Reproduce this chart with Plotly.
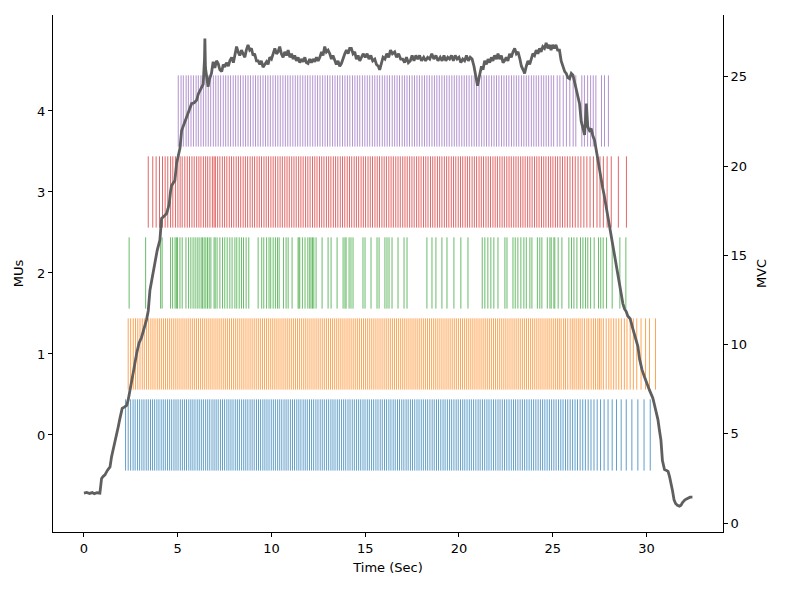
import plotly.graph_objects as go

# ---------------- data ----------------
mu_labels = [0, 1, 2, 3, 4]
mu_colors = ["#1f77b4", "#ff7f0e", "#2ca02c", "#d62728", "#9467bd"]

mu0_spikes = [2.22, 2.36, 2.49, 2.62, 2.73, 2.86, 2.97, 3.09, 3.20, 3.32, 3.43, 3.55, 3.66, 3.77, 3.89, 4.00,
              4.12, 4.23, 4.34, 4.46, 4.57, 4.68, 4.80, 4.91, 5.02, 5.14, 5.25, 5.36, 5.47, 5.59, 5.70, 5.81,
              5.92, 6.04, 6.15, 6.26, 6.37, 6.49, 6.60, 6.71, 6.83, 6.94, 7.05, 7.16, 7.28, 7.39, 7.50, 7.62,
              7.73, 7.84, 7.95, 8.07, 8.18, 8.29, 8.41, 8.52, 8.63, 8.74, 8.86, 8.97, 9.08, 9.20, 9.31, 9.42,
              9.54, 9.65, 9.76, 9.87, 9.99, 10.10, 10.21, 10.33, 10.44, 10.55, 10.67, 10.78, 10.89, 11.01,
              11.12, 11.23, 11.35, 11.46, 11.57, 11.69, 11.80, 11.91, 12.03, 12.14, 12.25, 12.37, 12.48,
              12.60, 12.71, 12.82, 12.94, 13.05, 13.17, 13.28, 13.39, 13.51, 13.62, 13.74, 13.85, 13.96,
              14.08, 14.19, 14.31, 14.42, 14.54, 14.65, 14.76, 14.88, 14.99, 15.11, 15.22, 15.34, 15.45,
              15.57, 15.68, 15.80, 15.91, 16.03, 16.14, 16.26, 16.37, 16.49, 16.60, 16.72, 16.83, 16.95,
              17.06, 17.18, 17.29, 17.41, 17.52, 17.64, 17.76, 17.87, 17.99, 18.10, 18.22, 18.33, 18.45,
              18.57, 18.68, 18.80, 18.91, 19.03, 19.15, 19.26, 19.38, 19.50, 19.61, 19.73, 19.85, 19.96,
              20.08, 20.20, 20.31, 20.43, 20.55, 20.66, 20.78, 20.90, 21.02, 21.13, 21.25, 21.37, 21.49,
              21.60, 21.72, 21.84, 21.96, 22.08, 22.19, 22.31, 22.43, 22.55, 22.67, 22.79, 22.91, 23.02,
              23.14, 23.26, 23.38, 23.50, 23.62, 23.74, 23.86, 23.98, 24.10, 24.22, 24.34, 24.46, 24.58,
              24.70, 24.82, 24.94, 25.06, 25.18, 25.31, 25.43, 25.55, 25.68, 25.80, 25.93, 26.06, 26.19,
              26.32, 26.46, 26.60, 26.74, 26.89, 27.04, 27.20, 27.37, 27.55, 27.74, 27.95, 28.17, 28.40,
              28.65, 28.92, 29.22, 29.54, 29.87, 30.20]

mu1_spikes = [2.36, 2.49, 2.63, 2.75, 2.87, 2.99, 3.11, 3.22, 3.34, 3.45, 3.57, 3.68, 3.79, 3.91, 4.02, 4.13,
              4.24, 4.35, 4.46, 4.57, 4.68, 4.79, 4.90, 5.01, 5.12, 5.23, 5.34, 5.45, 5.56, 5.67, 5.78, 5.89,
              6.00, 6.11, 6.22, 6.33, 6.44, 6.55, 6.66, 6.77, 6.88, 6.99, 7.10, 7.21, 7.32, 7.43, 7.54, 7.65,
              7.76, 7.87, 7.98, 8.09, 8.20, 8.31, 8.42, 8.53, 8.64, 8.75, 8.86, 8.97, 9.08, 9.19, 9.30, 9.41,
              9.52, 9.63, 9.74, 9.85, 9.96, 10.07, 10.18, 10.29, 10.40, 10.51, 10.62, 10.73, 10.84, 10.95,
              11.06, 11.17, 11.28, 11.39, 11.50, 11.61, 11.72, 11.83, 11.94, 12.05, 12.16, 12.27, 12.38,
              12.49, 12.60, 12.71, 12.82, 12.93, 13.04, 13.15, 13.26, 13.37, 13.48, 13.59, 13.70, 13.81,
              13.92, 14.03, 14.14, 14.25, 14.36, 14.47, 14.58, 14.69, 14.80, 14.91, 15.02, 15.13, 15.24,
              15.35, 15.46, 15.57, 15.68, 15.79, 15.90, 16.01, 16.12, 16.23, 16.34, 16.45, 16.56, 16.67,
              16.78, 16.89, 17.00, 17.11, 17.22, 17.33, 17.44, 17.55, 17.66, 17.77, 17.88, 17.99, 18.10,
              18.21, 18.32, 18.43, 18.54, 18.65, 18.76, 18.87, 18.98, 19.09, 19.20, 19.31, 19.42, 19.53,
              19.64, 19.75, 19.86, 19.97, 20.08, 20.19, 20.30, 20.41, 20.52, 20.63, 20.74, 20.85, 20.96,
              21.07, 21.18, 21.29, 21.40, 21.51, 21.62, 21.73, 21.84, 21.95, 22.06, 22.17, 22.28, 22.39,
              22.50, 22.61, 22.72, 22.83, 22.94, 23.05, 23.16, 23.27, 23.38, 23.49, 23.60, 23.71, 23.82,
              23.93, 24.04, 24.15, 24.26, 24.37, 24.48, 24.59, 24.70, 24.81, 24.92, 25.03, 25.14, 25.25,
              25.35, 25.45, 25.58, 25.68, 25.80, 25.93, 26.04, 26.14, 26.25, 26.36, 26.46, 26.57, 26.69,
              26.82, 26.92, 27.05, 27.17, 27.28, 27.40, 27.49, 27.58, 27.70, 27.85, 27.99, 28.11, 28.25,
              28.38, 28.52, 28.66, 28.82, 28.96, 29.13, 29.30, 29.48, 29.71, 29.95, 30.16, 30.48]

mu2_spikes = [2.41, 3.29, 4.09, 4.17, 4.62, 4.73, 4.86, 4.93, 4.99, 5.12, 5.24, 5.44, 5.58, 5.70, 5.82, 5.93,
              6.04, 6.14, 6.25, 6.32, 6.41, 6.50, 6.59, 6.68, 6.77, 6.94, 7.00, 7.10, 7.25, 7.39, 7.51, 7.64,
              7.78, 7.90, 8.05, 8.15, 8.28, 8.40, 8.51, 8.65, 8.79, 9.29, 9.48, 9.59, 9.74, 9.87, 9.96, 10.09,
              10.21, 10.32, 10.41, 10.64, 10.78, 10.89, 11.10, 11.42, 11.47, 11.51, 11.65, 11.79, 11.94,
              12.04, 12.11, 12.19, 12.26, 12.38, 12.70, 13.02, 13.18, 13.50, 13.82, 13.92, 13.98, 14.14,
              14.24, 14.35, 14.88, 14.99, 15.31, 15.63, 15.74, 16.05, 16.16, 16.27, 16.43, 16.75, 17.07,
              17.23, 18.29, 18.56, 18.77, 19.09, 19.36, 19.73, 20.10, 20.48, 21.24, 21.38, 21.54, 21.70,
              21.86, 22.08, 22.45, 22.56, 22.88, 23.00, 23.14, 23.30, 23.46, 23.59, 23.78, 23.89, 24.18,
              24.31, 24.42, 24.71, 24.85, 24.92, 25.06, 25.11, 25.29, 25.49, 25.86, 26.00, 26.13, 26.29,
              26.48, 26.61, 26.75, 26.87, 27.02, 27.21, 27.44, 27.56, 27.69, 27.87, 28.17, 28.58, 28.90]

mu3_spikes = [3.43, 3.67, 3.85, 4.03, 4.19, 4.33, 4.47, 4.62, 4.74, 4.88, 5.01, 5.13, 5.24, 5.38, 5.51, 5.63,
              5.76, 5.88, 6.01, 6.13, 6.24, 6.37, 6.49, 6.60, 6.72, 6.85, 6.94, 7.01, 7.13, 7.25, 7.38, 7.50,
              7.62, 7.75, 7.87, 7.99, 8.12, 8.24, 8.36, 8.49, 8.61, 8.73, 8.86, 8.98, 9.10, 9.23, 9.35, 9.47,
              9.60, 9.72, 9.84, 9.97, 10.09, 10.21, 10.34, 10.46, 10.58, 10.71, 10.83, 10.95, 11.08, 11.20,
              11.32, 11.45, 11.57, 11.69, 11.82, 11.94, 12.06, 12.19, 12.31, 12.43, 12.56, 12.68, 12.80,
              12.93, 13.05, 13.17, 13.30, 13.42, 13.54, 13.67, 13.79, 13.91, 14.04, 14.16, 14.28, 14.41,
              14.53, 14.65, 14.78, 14.90, 15.02, 15.15, 15.27, 15.39, 15.52, 15.64, 15.76, 15.89, 16.01,
              16.13, 16.26, 16.38, 16.50, 16.63, 16.75, 16.87, 17.00, 17.12, 17.24, 17.37, 17.49, 17.61,
              17.74, 17.86, 17.98, 18.11, 18.23, 18.35, 18.48, 18.60, 18.72, 18.85, 18.97, 19.09, 19.22,
              19.34, 19.46, 19.59, 19.71, 19.83, 19.96, 20.08, 20.20, 20.33, 20.45, 20.57, 20.70, 20.82,
              20.94, 21.07, 21.19, 21.31, 21.44, 21.56, 21.68, 21.81, 21.93, 22.05, 22.18, 22.30, 22.42,
              22.55, 22.67, 22.79, 22.92, 23.04, 23.16, 23.29, 23.41, 23.53, 23.66, 23.78, 23.90, 24.03,
              24.15, 24.27, 24.40, 24.52, 24.64, 24.77, 24.89, 25.01, 25.14, 25.26, 25.39, 25.52, 25.65,
              25.78, 25.92, 26.06, 26.20, 26.35, 26.50, 26.66, 26.82, 26.99, 27.17, 27.36, 27.52, 27.70,
              27.90, 28.12, 28.50, 28.93]

mu4_spikes = [5.03, 5.18, 5.30, 5.45, 5.57, 5.71, 5.84, 5.98, 6.10, 6.24, 6.37, 6.50, 6.63, 6.76, 6.90, 7.03,
              7.16, 7.29, 7.43, 7.56, 7.69, 7.82, 7.96, 8.09, 8.22, 8.35, 8.49, 8.62, 8.75, 8.88, 9.02, 9.15,
              9.28, 9.41, 9.55, 9.68, 9.81, 9.94, 10.08, 10.21, 10.34, 10.47, 10.61, 10.74, 10.87, 11.00,
              11.14, 11.27, 11.40, 11.53, 11.67, 11.80, 11.93, 12.06, 12.20, 12.33, 12.46, 12.59, 12.73,
              12.86, 12.99, 13.12, 13.26, 13.39, 13.52, 13.65, 13.79, 13.92, 14.05, 14.18, 14.32, 14.45,
              14.58, 14.71, 14.85, 14.98, 15.11, 15.24, 15.38, 15.51, 15.64, 15.77, 15.91, 16.04, 16.17,
              16.30, 16.44, 16.57, 16.70, 16.83, 16.97, 17.10, 17.23, 17.36, 17.50, 17.63, 17.76, 17.89,
              18.03, 18.16, 18.29, 18.42, 18.56, 18.69, 18.82, 18.95, 19.09, 19.22, 19.35, 19.48, 19.62,
              19.75, 19.88, 20.01, 20.15, 20.28, 20.41, 20.54, 20.68, 20.81, 20.94, 21.07, 21.21, 21.34,
              21.47, 21.60, 21.74, 21.87, 22.00, 22.13, 22.27, 22.40, 22.53, 22.66, 22.80, 22.93, 23.06,
              23.19, 23.33, 23.46, 23.59, 23.72, 23.86, 23.99, 24.12, 24.25, 24.39, 24.52, 24.65, 24.78,
              24.92, 25.05, 25.24, 25.38, 25.56, 25.73, 25.91, 26.09, 26.23, 26.55, 26.69, 26.86, 27.02,
              27.16, 27.30, 27.60, 27.76, 27.97]

mvc_time = [0.00, 0.15, 0.30, 0.45, 0.55, 0.70, 0.85, 0.94, 1.03, 1.12, 1.25, 1.39, 1.47, 1.56, 1.65, 1.74,
            1.83, 1.92, 2.04, 2.15, 2.28, 2.36, 2.45, 2.54, 2.66, 2.81, 2.94, 3.07, 3.16, 3.25, 3.34, 3.43,
            3.52, 3.65, 3.78, 3.91, 4.05, 4.10, 4.14, 4.28, 4.41, 4.48, 4.55, 4.62, 4.67, 4.76, 4.85, 4.94,
            5.03, 5.12, 5.21, 5.34, 5.47, 5.60, 5.74, 5.88, 6.01, 6.10, 6.18, 6.27, 6.36, 6.43, 6.45, 6.48,
            6.55, 6.62, 6.70, 6.80, 6.89, 6.98, 7.07, 7.16, 7.25, 7.35, 7.43, 7.51, 7.60, 7.70, 7.78, 7.88,
            7.97, 8.05, 8.14, 8.22, 8.31, 8.40, 8.49, 8.58, 8.66, 8.75, 8.84, 8.93, 9.02, 9.10, 9.20, 9.29,
            9.38, 9.46, 9.55, 9.64, 9.74, 9.82, 9.91, 10.00, 10.09, 10.18, 10.27, 10.35, 10.44, 10.53,
            10.62, 10.71, 10.80, 10.89, 10.98, 11.07, 11.16, 11.24, 11.33, 11.42, 11.51, 11.60, 11.69,
            11.78, 11.86, 11.95, 12.04, 12.13, 12.22, 12.31, 12.40, 12.49, 12.58, 12.67, 12.75, 12.84,
            12.93, 13.02, 13.11, 13.20, 13.28, 13.37, 13.46, 13.55, 13.64, 13.73, 13.82, 13.91, 14.00,
            14.09, 14.17, 14.26, 14.35, 14.44, 14.53, 14.62, 14.71, 14.80, 14.89, 15.00, 15.10, 15.20,
            15.30, 15.40, 15.51, 15.60, 15.70, 15.77, 15.85, 15.95, 16.05, 16.15, 16.25, 16.35, 16.45,
            16.57, 16.67, 16.78, 16.89, 17.00, 17.10, 17.20, 17.30, 17.40, 17.50, 17.60, 17.70, 17.80,
            17.90, 18.00, 18.12, 18.22, 18.33, 18.44, 18.55, 18.66, 18.77, 18.88, 19.00, 19.10, 19.20,
            19.30, 19.40, 19.50, 19.60, 19.70, 19.80, 19.90, 20.00, 20.10, 20.20, 20.30, 20.40, 20.50,
            20.60, 20.70, 20.80, 20.90, 20.99, 21.08, 21.20, 21.28, 21.37, 21.46, 21.55, 21.64, 21.73,
            21.81, 21.90, 22.00, 22.08, 22.17, 22.26, 22.35, 22.43, 22.52, 22.61, 22.70, 22.79, 22.88,
            22.97, 23.06, 23.15, 23.25, 23.33, 23.42, 23.50, 23.59, 23.68, 23.77, 23.86, 23.94, 24.03,
            24.12, 24.21, 24.30, 24.38, 24.47, 24.56, 24.65, 24.74, 24.82, 24.91, 24.99, 25.08, 25.17,
            25.26, 25.36, 25.45, 25.55, 25.64, 25.72, 25.81, 25.90, 25.99, 26.08, 26.16, 26.25, 26.34,
            26.43, 26.52, 26.61, 26.70, 26.79, 26.87, 26.96, 27.05, 27.14, 27.23, 27.32, 27.41, 27.50,
            27.58, 27.66, 27.74, 27.82, 27.90, 27.97, 28.05, 28.12, 28.20, 28.29, 28.38, 28.47, 28.56,
            28.65, 28.74, 28.83, 28.92, 29.00, 29.13, 29.27, 29.40, 29.54, 29.63, 29.76, 29.89, 29.98,
            30.07, 30.16, 30.25, 30.34, 30.43, 30.53, 30.61, 30.69, 30.77, 30.85, 30.96, 31.07, 31.15,
            31.23, 31.31, 31.39, 31.47, 31.55, 31.65, 31.76, 31.84, 31.92, 32.05, 32.19, 32.32, 32.45,
            32.56]

mvc_value = [1.68, 1.72, 1.66, 1.71, 1.65, 1.70, 1.68, 2.50, 2.62, 2.70, 2.95, 3.15, 3.70, 4.10, 4.45, 4.83,
             5.40, 5.87, 6.43, 6.50, 6.60, 6.90, 7.35, 7.90, 8.60, 9.50, 10.10, 10.40, 10.75, 11.00, 11.40,
             11.90, 13.05, 13.80, 14.55, 15.30, 15.85, 16.60, 17.07, 17.20, 17.35, 17.60, 17.90, 18.60,
             18.90, 19.05, 19.20, 20.15, 20.60, 21.00, 22.00, 22.35, 22.70, 23.10, 23.50, 23.55, 23.70,
             24.05, 24.25, 24.40, 24.60, 26.00, 27.15, 25.50, 24.90, 24.45, 24.90, 25.20, 25.85, 25.50,
             25.90, 25.75, 25.40, 25.30, 25.70, 25.55, 25.80, 25.60, 25.90, 26.10, 25.80, 26.30, 26.70,
             26.40, 26.20, 26.50, 26.30, 26.10, 26.50, 26.80, 26.50, 26.60, 26.20, 26.30, 25.90, 25.90,
             25.70, 25.90, 25.55, 25.70, 25.85, 25.70, 26.10, 26.00, 26.30, 26.60, 26.30, 26.40, 26.70,
             26.30, 26.10, 26.40, 26.20, 26.50, 26.10, 26.30, 26.00, 26.20, 25.90, 26.10, 25.80, 26.00,
             25.85, 26.10, 25.80, 25.75, 26.00, 25.80, 26.00, 25.85, 26.10, 25.90, 26.10, 26.40, 26.20,
             26.70, 26.40, 26.50, 26.30, 26.00, 26.20, 25.90, 25.70, 25.90, 25.60, 25.75, 26.10, 26.30,
             26.50, 26.30, 26.60, 26.60, 26.30, 26.40, 26.00, 26.20, 25.90, 26.10, 26.30, 26.10, 26.30,
             26.00, 26.20, 25.90, 26.00, 25.70, 25.60, 25.40, 25.80, 26.10, 26.00, 26.30, 26.10, 26.50,
             26.30, 26.40, 26.10, 26.30, 26.00, 26.00, 25.80, 26.10, 25.80, 25.90, 26.20, 25.90, 26.20,
             26.00, 26.20, 25.90, 26.10, 25.90, 26.10, 26.00, 26.30, 26.00, 26.20, 25.90, 26.10, 25.90,
             26.20, 25.90, 26.10, 26.00, 26.20, 25.90, 26.20, 26.00, 26.10, 25.80, 26.00, 25.90, 26.20,
             25.90, 26.10, 26.00, 25.60, 25.10, 24.50, 25.00, 25.60, 25.40, 25.90, 25.70, 26.00, 25.80,
             26.10, 25.90, 26.20, 26.00, 26.30, 26.00, 26.20, 25.80, 25.90, 26.10, 25.90, 26.30, 26.10,
             26.40, 26.60, 26.30, 26.40, 26.00, 25.60, 25.40, 25.20, 25.60, 25.90, 25.70, 26.00, 26.30,
             26.20, 26.50, 26.30, 26.60, 26.40, 26.70, 26.60, 26.90, 26.60, 26.80, 26.50, 26.80, 26.60,
             26.80, 26.50, 26.50, 25.90, 25.60, 25.30, 25.20, 24.95, 24.90, 25.20, 25.10, 24.70, 24.45,
             24.00, 23.50, 22.50, 22.10, 21.75, 23.50, 22.20, 22.00, 22.10, 21.70, 21.45, 20.90, 20.30,
             19.70, 19.20, 18.80, 18.40, 17.90, 17.50, 16.90, 16.40, 16.00, 15.65, 15.10, 14.55, 14.00,
             13.40, 12.80, 12.30, 12.00, 11.85, 11.60, 11.45, 10.90, 10.40, 9.90, 9.20, 8.60, 8.20, 7.90,
             7.70, 7.45, 7.20, 7.00, 6.60, 6.20, 5.80, 5.20, 4.65, 3.50, 3.00, 2.95, 2.90, 2.60, 2.25,
             1.80, 1.30, 1.10, 1.00, 0.95, 1.00, 1.15, 1.30, 1.40, 1.45, 1.45]

x_ticks = [0, 5, 10, 15, 20, 25, 30]
mu_ticks = [0, 1, 2, 3, 4]
mvc_ticks = [0, 5, 10, 15, 20, 25]

# ---------------- figure ----------------
fig = go.Figure()
half_len = 0.44
all_trains = [mu0_spikes, mu1_spikes, mu2_spikes, mu3_spikes, mu4_spikes]
for k, (train, col) in enumerate(zip(all_trains, mu_colors)):
    xs, ys = [], []
    for t in train:
        xs += [t, t, None]
        ys += [mu_labels[k] - half_len, mu_labels[k] + half_len, None]
    fig.add_trace(go.Scatter(x=xs, y=ys, mode="lines",
                             line=dict(color=col, width=1), opacity=0.7,
                             hoverinfo="skip", showlegend=False, yaxis="y"))

fig.add_trace(go.Scatter(x=mvc_time, y=mvc_value, mode="lines",
                         line=dict(color="#5f5f5f", width=2.8),
                         showlegend=False, yaxis="y2"))

font = dict(family="DejaVu Sans", size=13, color="black")
fig.update_layout(
    width=787, height=590,
    margin=dict(l=53, r=64, t=15, b=58),
    paper_bgcolor="white", plot_bgcolor="white",
    font=font,
    xaxis=dict(range=[-1.65, 34.08], tickvals=x_ticks, showgrid=False, zeroline=False,
               showline=True, linecolor="black", linewidth=1, ticks="outside", ticklen=4,
               tickcolor="black", title=dict(text="Time (Sec)", font=font, standoff=8)),
    yaxis=dict(range=[-1.198, 5.185], tickvals=mu_ticks, showgrid=False, zeroline=False,
               showline=True, linecolor="black", linewidth=1, ticks="outside", ticklen=4,
               tickcolor="black", title=dict(text="MUs", font=font, standoff=10)),
    yaxis2=dict(range=[-0.5, 28.47], tickvals=mvc_ticks, overlaying="y", side="right",
                showgrid=False, zeroline=False, showline=True, linecolor="black", linewidth=1,
                ticks="outside", ticklen=4, tickcolor="black",
                title=dict(text="MVC", font=font, standoff=10)),
)

fig.write_html("out.html", config={"displayModeBar": False},
               post_script="document.body.style.margin='0px';document.body.style.overflow='hidden';")
